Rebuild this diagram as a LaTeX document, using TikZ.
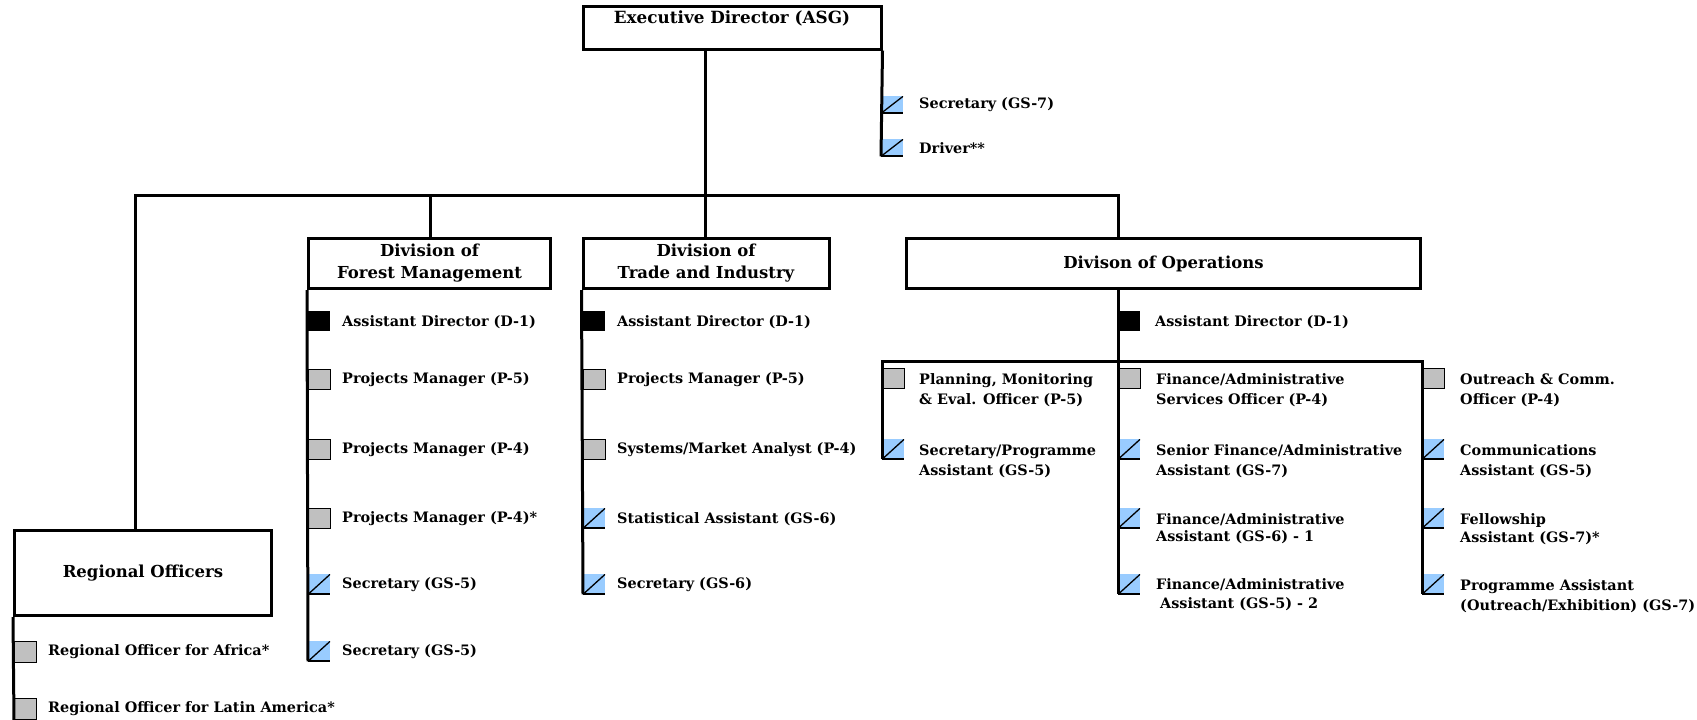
\documentclass[tikz,border=0pt]{standalone}
\usepackage{fontspec}
\setmainfont{DejaVu Serif}
\definecolor{rblue}{HTML}{99CCFF}
\definecolor{rgray}{HTML}{C0C0C0}
\newcommand{\itemfont}{\bfseries\fontsize{14.4}{20}\selectfont}
\newcommand{\itemfontt}{\bfseries\fontsize{14.4}{17.5}\selectfont}
\newcommand{\itemfontm}{\bfseries\fontsize{14.4}{19}\selectfont}
\newcommand{\headfont}{\bfseries\fontsize{16.5}{22}\selectfont}
\newcommand{\execfont}{\bfseries\fontsize{16.8}{20}\selectfont}
\begin{document}
\begin{tikzpicture}[x=1pt,y=-1pt,
  ln/.style={line width=3pt, line join=miter},
  frame/.style={draw, line width=3pt, rectangle, inner sep=0},
  mk/.style={rectangle, inner sep=0, minimum width=22pt, minimum height=20pt, anchor=north west},
  gmk/.style={mk, fill=rgray, draw, line width=1.2pt},
  kmk/.style={mk, fill=black},
  bmk/.style={mk, fill=rblue, path picture={
      \draw[line width=2.6pt] (path picture bounding box.south west) -- (path picture bounding box.south east);
      \draw[line width=1.3pt] (path picture bounding box.south west) -- (path picture bounding box.north east);}},
  itm/.style={anchor=west, inner sep=0, font=\itemfont, align=left},
  itmt/.style={itm, font=\itemfontt},
  itmm/.style={itm, font=\itemfontm},
  hd/.style={frame, font=\headfont, align=center}]
\useasboundingbox (0,0) rectangle (1697,720);

% main boxes
\node[frame, minimum width=298pt, minimum height=43pt] (exec) at (732,27.5) {};
\node[inner sep=0, font=\execfont] (exectxt) at (732,18.5) {Executive Director (ASG)};
\node[hd, minimum width=242pt, minimum height=50pt] (forest) at (429.5,263.5) {Division of\\Forest Management};
\node[hd, minimum width=246pt, minimum height=50pt] (trade) at (706,263.5) {Division of\\Trade and Industry};
\node[hd, minimum width=514pt, minimum height=50pt] (ops) at (1163.5,263.5) {Divison of Operations};
\node[hd, minimum width=257pt, minimum height=85pt] (regional) at (143,573) {Regional Officers};

% bus
\coordinate (busL) at (135,195);
\coordinate (busF) at (430,195);
\coordinate (busC) at (705,195);
\coordinate (busR) at (1118,195);
\draw[ln] (exec.south -| busC) -- (busC);
\draw[ln] (regional.north -| busL) |- (busR) -- (ops.north -| busR);
\draw[ln] (busF) -- (forest.north -| busF);
\draw[ln] (busC) -- (trade.north -| busC);

% executive staff
\node[bmk, minimum height=17pt] (esec) at (881,96) {};
\node[bmk, minimum height=17pt] (edrv) at (881,139) {};
\node[itm] (esect) at (919,105) {Secretary (GS-7)};
\node[itm] (edrvt) at (919,148) {Driver**};
\draw[ln] (exec.south east) -- (edrv.south west);

% forest management
\node[kmk] (fad) at (308,311) {};
\node[gmk] (fp5) at (308,369) {};
\node[gmk] (fp4) at (308,439) {};
\node[gmk] (fp4s) at (308,508) {};
\node[bmk] (fs1) at (308,574) {};
\node[bmk] (fs2) at (308,641) {};
\node[itm] at (342,322) {Assistant Director (D-1)};
\node[itm] at (342,380) {Projects Manager (P-5)};
\node[itm] at (342,450) {Projects Manager (P-4)};
\node[itm] at (342,519) {Projects Manager (P-4)*};
\node[itm] at (342,585) {Secretary (GS-5)};
\node[itm] at (342,652) {Secretary (GS-5)};
\draw[ln] (forest.south west) -- (fs2.south west);

% trade and industry
\node[kmk] (tad) at (583,311) {};
\node[gmk] (tp5) at (583,369) {};
\node[gmk] (tsy) at (583,439) {};
\node[bmk] (tst) at (583,508) {};
\node[bmk] (tse) at (583,574) {};
\node[itm] at (617,322) {Assistant Director (D-1)};
\node[itm] at (617,380) {Projects Manager (P-5)};
\node[itm] at (617,450) {Systems/Market Analyst (P-4)};
\node[itm] at (617,519) {Statistical Assistant (GS-6)};
\node[itm] at (617,585) {Secretary (GS-6)};
\draw[ln] (trade.south west) -- (tse.south west);

% operations
\node[kmk] (oad) at (1118,311) {};
\node[itm] at (1155,322) {Assistant Director (D-1)};
\coordinate (osub) at (1118,361);
\node[gmk] (ol1) at (882,368) {};
\node[bmk] (ol2) at (882,439) {};
\node[gmk] (oc1) at (1118,368) {};
\node[bmk] (oc2) at (1118,439) {};
\node[bmk] (oc3) at (1118,508) {};
\node[bmk] (oc4) at (1118,574) {};
\node[gmk] (or1) at (1422,368) {};
\node[bmk] (or2) at (1422,439) {};
\node[bmk] (or3) at (1422,508) {};
\node[bmk] (or4) at (1422,574) {};
\node[itm] at (919,390) {Planning, Monitoring\\\& Eval. Officer (P-5)};
\node[itm] at (919,461) {Secretary/Programme\\Assistant (GS-5)};
\node[itm] at (1156,390) {Finance/Administrative\\Services Officer (P-4)};
\node[itm] at (1156,461) {Senior Finance/Administrative\\Assistant (GS-7)};
\node[itmt] at (1156,528.5) {Finance/Administrative\\Assistant (GS-6) - 1};
\node[itmm] at (1156,594.5) {Finance/Administrative\\\hspace*{4pt}Assistant (GS-5) - 2};
\node[itm] at (1460,390) {Outreach \& Comm.\\Officer (P-4)};
\node[itm] at (1460,461) {Communications\\Assistant (GS-5)};
\node[itmt] at (1460,529) {Fellowship\\Assistant (GS-7)*};
\node[itm] at (1460,596) {Programme Assistant\\(Outreach/Exhibition) (GS-7)};
\draw[ln] (ops.south -| oad.west) -- (oc4.south west);
\draw[ln] (ol2.south west) -- (ol2.west |- osub) -- (or4.west |- osub) -- (or4.south west);

% regional
\node[gmk, minimum height=21pt] (ra) at (14,641) {};
\node[gmk, minimum height=21pt] (rl) at (14,698) {};
\node[itm] at (48,652) {Regional Officer for Africa*};
\node[itm] at (48,709) {Regional Officer for Latin America*};
\draw[ln] (regional.south west) -- (rl.south west);
\end{tikzpicture}
\end{document}
